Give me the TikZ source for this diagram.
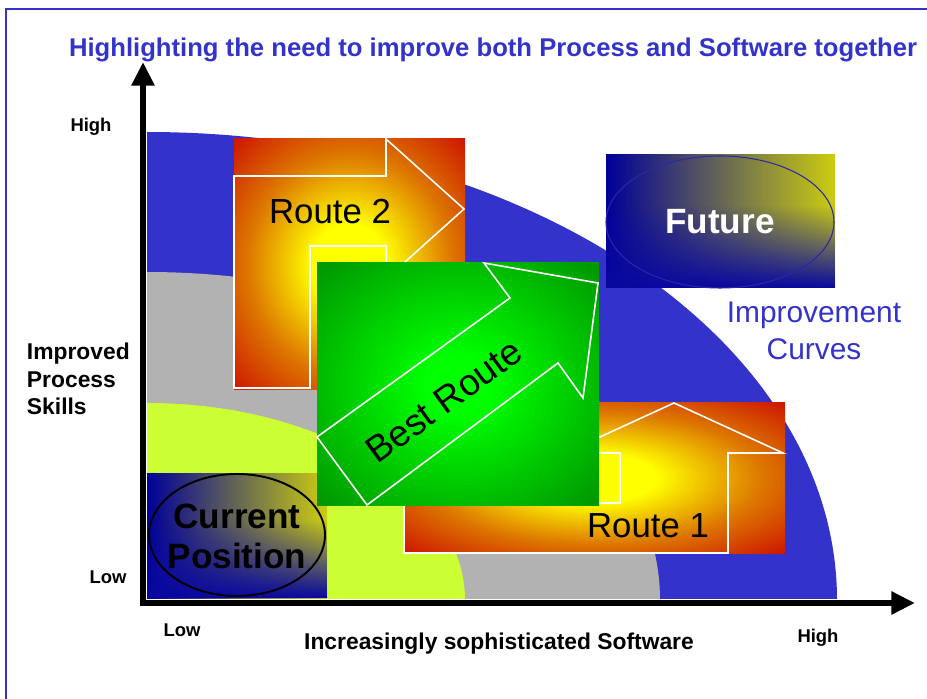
\documentclass[tikz,border=0pt]{standalone}
\usepackage{fontspec}
\setmainfont{Liberation Sans}
\usetikzlibrary{arrows.meta,fadings}

\definecolor{curveblue}{HTML}{3333CC}
\definecolor{curvegray}{HTML}{B2B2B2}
\definecolor{curvelime}{HTML}{CCFF33}
\definecolor{routered}{HTML}{CC1100}
\definecolor{routeorange}{HTML}{DD7700}
\definecolor{routeyellow}{HTML}{FFFF00}
\definecolor{bestlight}{HTML}{00FF00}
\definecolor{bestdark}{HTML}{009900}
\definecolor{posnavy}{HTML}{000099}
\definecolor{posgold}{HTML}{CCCC11}

% red edges, yellow middle
\pgfdeclareradialshading{routeglow}{\pgfpoint{0bp}{0bp}}{%
  color(0bp)=(routeyellow); color(8bp)=(routeyellow); color(22bp)=(routeorange);
  color(36bp)=(routered); color(75bp)=(routered)}
% green glow for the best route
\pgfdeclareradialshading{bestglow}{\pgfpoint{0bp}{0bp}}{%
  color(0bp)=(bestlight); color(6bp)=(bestlight); color(34bp)=(bestdark); color(75bp)=(bestdark)}

\begin{document}
\begin{tikzpicture}[x=0.02cm, y=-0.02cm,
    every node/.style={inner sep=0pt, outer sep=0pt},
    axis/.style={line width=3.4pt, line cap=rect, -{Triangle[length=13.5pt,width=12.5pt]}},
    arrowline/.style={draw=white, line width=0.9pt, line join=miter},
    ticklbl/.style={font=\fontsize{10.5}{12}\selectfont\bfseries},
    axislbl/.style={font=\fontsize{13}{15.8}\selectfont\bfseries, align=left},
    routelbl/.style={font=\fontsize{19.8}{23}\selectfont},
    poslbl/.style={font=\fontsize{20}{22.7}\selectfont\bfseries, align=center}]
  \useasboundingbox (0,0) rectangle (927,699);

  % frame
  \draw[curveblue, line width=1.7pt] (6,699) -- (6,9) -- (927,9);

  % title
  \node[font=\fontsize{14.6}{17}\selectfont\bfseries, text=curveblue] (title) at (493,50)
    {Highlighting the need to improve both Process and Software together};

  % improvement curves
  \begin{scope}
    \clip (147,100) rectangle (900,598);
    \fill[curveblue] (147,600) ellipse [x radius=690, y radius=468];
    \fill[curvegray] (147,600) ellipse [x radius=513, y radius=328];
    \fill[curvelime] (147,600) ellipse [x radius=318, y radius=197];
  \end{scope}

  % current position
  \fill[left color=posnavy, right color=posgold] (147,473) rectangle (327,598);
  \fill[posnavy!85!curveblue, path fading=north] (147,520) rectangle (327,598);
  \draw[black, line width=1.1pt] (237,535) ellipse [x radius=88, y radius=61];
  \node[poslbl] (current) at (237,536) {Current\\Position};

  % route 2
  \shade[shading=routeglow] (234,139) rectangle (465,390);
  \draw[arrowline] (234,388) -- (234,176) -- (386,176) -- (386,139) -- (464,209)
    -- (386,279) -- (386,246) -- (310,246) -- (310,388) -- cycle;
  \node[routelbl] (route2) at (330,212) {Route 2};

  % future
  \fill[left color=posnavy, right color=posgold] (606,155) rectangle (835,288);
  \fill[posnavy!85!curveblue, path fading=north] (606,205) rectangle (835,288);
  \draw[curveblue!80!black, line width=0.6pt] (720,222) ellipse [x radius=114, y radius=66];
  \node[poslbl, text=white] (future) at (720,222) {Future};

  \node[font=\fontsize{17}{21}\selectfont, text=curveblue, align=center] (curves) at (814,331)
    {Improvement\\Curves};

  % route 1
  \shade[shading=routeglow] (404,403) rectangle (785,553);
  \draw[arrowline] (404,553) -- (728,553) -- (728,453) -- (783,453) -- (674,403)
    -- (565,453) -- (620,453) -- (620,503) -- (404,503) -- cycle;
  \node[routelbl] (route1) at (648,526) {Route 1};

  % best route
  \shade[shading=bestglow] (317,263) rectangle (599,505);
  \draw[arrowline] (317,437) -- (510,298) -- (484,263) -- (598,283) -- (583,398)
    -- (558,363) -- (367,505) -- cycle;
  \node[routelbl, font=\fontsize{21}{24}\selectfont, rotate=36] (best) at (444,401) {Best Route};

  % axes
  \coordinate (origin) at (143,603);
  \coordinate (xend) at (915,603);
  \coordinate (yend) at (143,62);
  \draw[axis] (origin) -- (xend);
  \draw[axis] (origin) -- (yend);

  \node[ticklbl] (yhigh) at (91,127) {High};
  \node[ticklbl] (ylow) at (108,577) {Low};
  \node[ticklbl] (xlow) at (182,630) {Low};
  \node[ticklbl] (xhigh) at (818,638) {High};

  \node[axislbl, anchor=west] (ylabel) at (27,379) {Improved\\Process\\Skills};
  \node[axislbl] (xlabel) at (499,644) {Increasingly sophisticated Software};
\end{tikzpicture}
\end{document}
